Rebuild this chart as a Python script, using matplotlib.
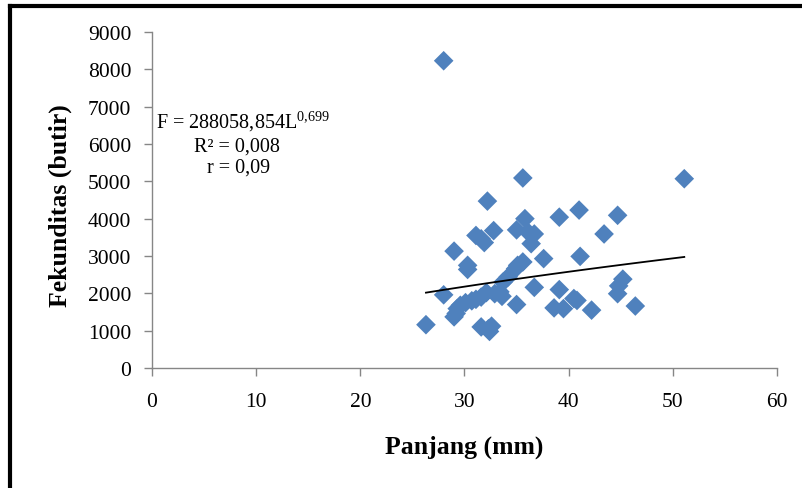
import numpy as np
import matplotlib
matplotlib.use('Agg')
import matplotlib.pyplot as plt

plt.rcParams['font.family'] = ['Liberation Serif', 'DejaVu Serif']
plt.rcParams['mathtext.fontset'] = 'custom'
plt.rcParams['mathtext.rm'] = 'Liberation Serif'

# panjang (mm) dan fekunditas (butir)
panjang = [28.0, 35.6, 51.1, 32.2, 41.0, 44.7, 39.1, 35.8, 32.8, 35.0,
           36.1, 36.7, 43.4, 31.1, 31.6, 31.9, 36.4, 29.0, 37.6, 41.1,
           30.3, 30.3, 35.6, 35.1, 34.9, 34.2, 45.2, 33.7, 44.8, 36.7,
           39.1, 28.0, 44.7, 33.4, 32.1, 32.9, 33.6, 31.6, 31.1, 30.7,
           30.1, 29.6, 29.3, 40.5, 40.8, 35.0, 38.6, 39.5, 46.4, 42.2,
           29.0, 29.2, 26.3, 31.6, 32.6, 32.4, 32.3]
fekunditas = [8230, 5090, 5070, 4470, 4230, 4090, 4040, 4000, 3680, 3700,
              3640, 3590, 3590, 3550, 3460, 3360, 3330, 3130, 2930, 2990,
              2750, 2640, 2840, 2750, 2660, 2440, 2380, 2300, 2200, 2160,
              2100, 1960, 1990, 2040, 2020, 1990, 1920, 1900, 1840, 1800,
              1750, 1680, 1590, 1860, 1810, 1700, 1610, 1590, 1660, 1550,
              1370, 1460, 1160, 1100, 1120, 980, 1050]

# garis tren (power) seperti yang terlihat di gambar
trend_a = 299.0
trend_b = 0.584
trend_x = [26.3, 51.1]

xticks = [0, 10, 20, 30, 40, 50, 60]
yticks = [0, 1000, 2000, 3000, 4000, 5000, 6000, 7000, 8000, 9000]

fig = plt.figure(figsize=(8.03, 4.89), dpi=100)
ax = fig.add_axes([0.1893, 0.2454, 0.7783, 0.6871])

ax.scatter(panjang, fekunditas, marker='D', s=100, color='#4F81BD',
           edgecolors='none', zorder=3)

tx = np.linspace(trend_x[0], trend_x[1], 50)
ax.plot(tx, trend_a * tx ** trend_b, color='black', lw=1.3, zorder=4)

ax.set_xlim(0, 60)
ax.set_ylim(0, 9000)
ax.set_xticks(xticks)
ax.set_yticks(yticks)
ax.tick_params(labelsize=15.5, color='#868686', length=6, width=1)
ax.tick_params(axis='x', pad=11)
ax.tick_params(axis='y', pad=9)

for side in ['top', 'right']:
    ax.spines[side].set_visible(False)
for side in ['left', 'bottom']:
    ax.spines[side].set_color('#868686')
    ax.spines[side].set_linewidth(1)

ax.set_xlabel('Panjang (mm)', fontsize=18.5, fontweight='bold', va='top')
ax.xaxis.set_label_coords(0.5, -0.199)
ax.set_ylabel('Fekunditas (butir)', fontsize=18.5, fontweight='bold', va='center')
ax.yaxis.set_label_coords(-0.147, 0.485)

ax.text(0.0064, 0.735, r'F = 288058,854L$^{0{,}699}$', transform=ax.transAxes,
        fontsize=14.5, ha='left', va='center')
ax.text(0.136, 0.661, 'R² = 0,008', transform=ax.transAxes,
        fontsize=14.5, ha='center', va='center')
ax.text(0.139, 0.598, 'r = 0,09', transform=ax.transAxes,
        fontsize=14.5, ha='center', va='center')

# bingkai hitam di atas dan kiri
fig.add_artist(plt.Line2D([0.0125, 1.0], [0.986, 0.986], color='black', lw=3,
                          transform=fig.transFigure))
fig.add_artist(plt.Line2D([0.0125, 0.0125], [0.0, 0.986], color='black', lw=3,
                          transform=fig.transFigure))

fig.savefig('out.png', dpi=100)
